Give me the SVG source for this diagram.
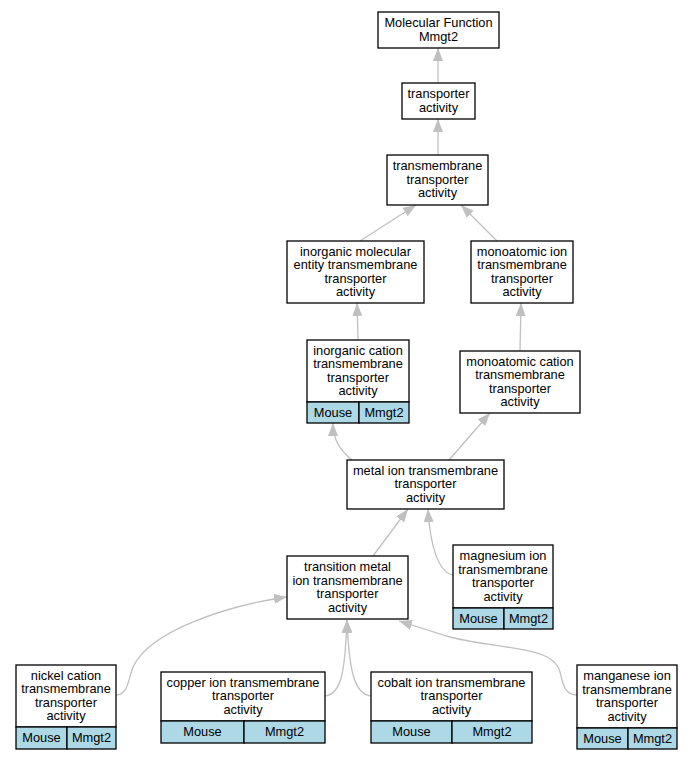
<svg xmlns="http://www.w3.org/2000/svg" width="692" height="760" viewBox="0 0 692 760">
<style>
.n{fill:#fff;stroke:#000;stroke-width:1.3}
.c{fill:#add8e6;stroke:#000;stroke-width:1.3}
text{font-family:"Liberation Sans",Arial,sans-serif;font-size:12.8px;text-anchor:middle;fill:#000}
.e{fill:none;stroke:#c0c0c0;stroke-width:1.3;marker-end:url(#a)}
</style>
<defs>
<marker id="a" viewBox="0 0 13 10" refX="13" refY="5" markerWidth="13" markerHeight="10" markerUnits="userSpaceOnUse" orient="auto">
<path d="M0,0 L13,5 L0,10 z" fill="#c0c0c0"/>
</marker>
</defs>
<rect width="692" height="760" fill="#fff"/>
<g id="edges">
<path class="e" d="M438,83 L438,48"/>
<path class="e" d="M438,155 L438,119"/>
<path class="e" d="M360,241 L416,205"/>
<path class="e" d="M497,241 L461,205"/>
<path class="e" d="M358,340 L357,303"/>
<path class="e" d="M520,351 L521,303"/>
<path class="e" d="M352,460 C340,450 333,440 333,423"/>
<path class="e" d="M449,460 L490,413"/>
<path class="e" d="M373,556 L408,509"/>
<path class="e" d="M453,575 C438,572 430,545 428,509"/>
<path class="e" d="M116,695 C128,695 128,680 133,667 C150,630 230,605 287,597"/>
<path class="e" d="M325,696 C342,694 345,670 347,620"/>
<path class="e" d="M371,696 C354,694 349,670 347,620"/>
<path class="e" d="M577,695 C565,695 563,685 560,672 C553,645 500,650 450,637 L399,621"/>
</g>
<g id="n1"><rect class="n" x="378" y="12" width="121" height="36"/><text x="438.5" y="27">Molecular Function</text><text x="438.5" y="40.5">Mmgt2</text></g>
<g id="n2"><rect class="n" x="402" y="83" width="73" height="36"/><text x="438.5" y="98">transporter</text><text x="438.5" y="111.5">activity</text></g>
<g id="n3"><rect class="n" x="387" y="155" width="101" height="50"/><text x="437.5" y="170">transmembrane</text><text x="437.5" y="183.5">transporter</text><text x="437.5" y="197">activity</text></g>
<g id="n4"><rect class="n" x="287" y="241" width="137" height="62"/><text x="355.5" y="255.5">inorganic molecular</text><text x="355.5" y="269">entity transmembrane</text><text x="355.5" y="282.5">transporter</text><text x="355.5" y="296">activity</text></g>
<g id="n5"><rect class="n" x="471" y="241" width="102" height="62"/><text x="522" y="255.5">monoatomic ion</text><text x="522" y="269">transmembrane</text><text x="522" y="282.5">transporter</text><text x="522" y="296">activity</text></g>
<g id="n6"><rect class="n" x="307" y="340" width="102" height="62"/><rect class="c" x="307" y="402" width="52" height="21"/><rect class="c" x="359" y="402" width="50" height="21"/><text x="358" y="354.5">inorganic cation</text><text x="358" y="368">transmembrane</text><text x="358" y="381.5">transporter</text><text x="358" y="395">activity</text><text x="333" y="416.5">Mouse</text><text x="384" y="416.5">Mmgt2</text></g>
<g id="n7"><rect class="n" x="460" y="351" width="120" height="62"/><text x="520" y="365.5">monoatomic cation</text><text x="520" y="379">transmembrane</text><text x="520" y="392.5">transporter</text><text x="520" y="406">activity</text></g>
<g id="n8"><rect class="n" x="347" y="460" width="157" height="49"/><text x="425.5" y="474.5">metal ion transmembrane</text><text x="425.5" y="488">transporter</text><text x="425.5" y="501.5">activity</text></g>
<g id="n9"><rect class="n" x="287" y="556" width="121" height="63"/><text x="347.5" y="571">transition metal</text><text x="347.5" y="584.5">ion transmembrane</text><text x="347.5" y="598">transporter</text><text x="347.5" y="611.5">activity</text></g>
<g id="n10"><rect class="n" x="453" y="545" width="100" height="63"/><rect class="c" x="453" y="608" width="51" height="21"/><rect class="c" x="504" y="608" width="49" height="21"/><text x="503" y="560">magnesium ion</text><text x="503" y="573.5">transmembrane</text><text x="503" y="587">transporter</text><text x="503" y="600.5">activity</text><text x="478.5" y="622.5">Mouse</text><text x="528.5" y="622.5">Mmgt2</text></g>
<g id="n11"><rect class="n" x="16" y="665" width="100" height="62"/><rect class="c" x="16" y="727" width="51" height="22"/><rect class="c" x="67" y="727" width="49" height="22"/><text x="66" y="679.5">nickel cation</text><text x="66" y="693">transmembrane</text><text x="66" y="706.5">transporter</text><text x="66" y="720">activity</text><text x="41.5" y="742">Mouse</text><text x="91.5" y="742">Mmgt2</text></g>
<g id="n12"><rect class="n" x="161" y="672" width="164" height="49"/><rect class="c" x="161" y="721" width="83" height="22"/><rect class="c" x="244" y="721" width="81" height="22"/><text x="243" y="686.5">copper ion transmembrane</text><text x="243" y="700">transporter</text><text x="243" y="713.5">activity</text><text x="202.5" y="736">Mouse</text><text x="284.5" y="736">Mmgt2</text></g>
<g id="n13"><rect class="n" x="371" y="672" width="161" height="49"/><rect class="c" x="371" y="721" width="81" height="22"/><rect class="c" x="452" y="721" width="80" height="22"/><text x="451.5" y="686.5">cobalt ion transmembrane</text><text x="451.5" y="700">transporter</text><text x="451.5" y="713.5">activity</text><text x="411.5" y="736">Mouse</text><text x="492" y="736">Mmgt2</text></g>
<g id="n14"><rect class="n" x="577" y="665" width="100" height="63"/><rect class="c" x="577" y="728" width="51" height="21"/><rect class="c" x="628" y="728" width="49" height="21"/><text x="627" y="680">manganese ion</text><text x="627" y="693.5">transmembrane</text><text x="627" y="707">transporter</text><text x="627" y="720.5">activity</text><text x="602.5" y="742.5">Mouse</text><text x="652.5" y="742.5">Mmgt2</text></g>
</svg>
